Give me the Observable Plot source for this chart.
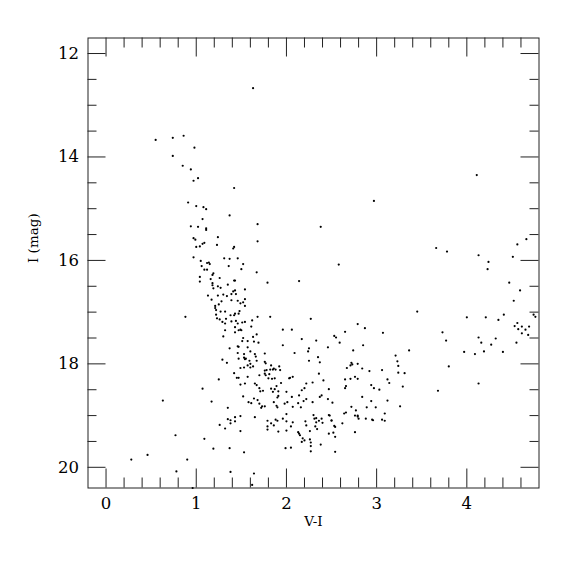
<!DOCTYPE html>
<html>
<head>
<meta charset="utf-8">
<script src="https://cdn.jsdelivr.net/npm/d3@7"></script>
<script src="https://cdn.jsdelivr.net/npm/@observablehq/plot@0.6"></script>
<style>
  html, body { margin: 0; padding: 0; background: #fff; }
  #chart { width: 575px; height: 575px; }
</style>
</head>
<body>
<div id="chart"></div>
<script>
// Axis ticks and labels
const xMajorTicks = [0, 1, 2, 3, 4];
const xMinorTicks = [0.2, 0.4, 0.6, 0.8, 1.2, 1.4, 1.6, 1.8, 2.2, 2.4, 2.6, 2.8, 3.2, 3.4, 3.6, 3.8, 4.2, 4.4, 4.6];
const yMajorTicks = [12, 14, 16, 18, 20];
const yMinorTicks = [12.5, 13, 13.5, 14.5, 15, 15.5, 16.5, 17, 17.5, 18.5, 19, 19.5];
const xTickLabels = ["0", "1", "2", "3", "4"];
const yTickLabels = ["12", "14", "16", "18", "20"];
const xTitle = "V-I";
const yTitle = "I (mag)";

// Stars: [V-I, I]
const brightStars = [
  [1.63,12.67],[0.55,13.67],[0.74,13.63],[0.86,13.59],[0.98,13.82],[0.74,13.98],
  [0.85,14.17],[0.94,14.24],[0.97,14.46],[1.02,14.41],[1.42,14.60],[2.97,14.85],
  [4.11,14.35],[0.91,14.88],[1.00,14.95],[1.08,14.97],[1.11,15.01],[1.07,15.20],
  [1.37,15.13],[2.38,15.35],[1.68,15.30],[2.58,16.08],[2.14,16.40]
];
const blueBranch = [
  [0.94,15.34],[1.02,15.35],[1.11,15.38],[1.11,15.41],[1.24,15.55],[0.97,15.57],
  [0.99,15.60],[1.23,15.70],[1.07,15.68],[1.09,15.66],[1.00,15.74],[1.04,15.73],
  [0.97,15.94],[1.05,16.01],[1.12,16.05],[1.14,16.04],[1.15,16.07],[1.06,16.11],
  [1.09,16.18],[1.12,16.18],[1.31,15.96],[1.37,15.97],[1.36,16.11],
  [1.68,15.63],[1.42,15.74],[1.41,15.77],[1.46,15.96],[1.52,16.07],[1.50,16.17],
  [1.67,16.23],[1.19,16.25],[1.18,16.28],[1.04,16.32],[1.26,16.34],[1.04,16.41],
  [1.16,16.36],[1.42,16.39],[1.43,16.39],[1.79,16.43],[1.18,16.44],[1.18,16.48],
  [1.19,16.54],[1.24,16.50],[1.27,16.53],[1.35,16.47],[1.54,16.56],[1.41,16.60],
  [1.43,16.58],[1.39,16.65],[1.13,16.68],[1.24,16.68],[1.30,16.66],[1.34,16.69],
  [1.44,16.65],[1.17,16.76],[1.28,16.79],[1.39,16.77],[1.46,16.78],[1.49,16.83],
  [1.52,16.81],[1.54,16.75],[1.25,16.85],[1.21,16.88],[1.21,16.92],[1.54,16.88],
  [1.27,16.99],[1.22,16.96],[1.32,16.99],[1.48,16.98],[1.22,17.05],[1.23,17.12],
  [1.26,17.14],[1.38,17.06],[1.42,17.06],[1.43,17.03],[1.47,17.03],[1.33,17.13],
  [1.29,17.19],[1.32,17.22],[1.39,17.18],[1.44,17.17],[1.46,17.22],[1.51,17.20],
  [1.54,17.19],[1.68,17.09],[1.82,17.09],[1.62,17.16],[0.88,17.09],
  [1.32,17.35],[1.30,17.47],[1.37,17.70],[1.29,17.92],[1.34,17.98],[1.25,18.30]
];
const faintCore = [
  [1.43,17.29],[1.43,17.39],[1.47,17.35],[1.49,17.34],[1.50,17.35],[1.61,17.28],
  [1.52,17.50],[1.51,17.56],[1.57,17.56],[1.63,17.48],[1.67,17.43],[1.64,17.57],
  [1.69,17.59],[1.96,17.34],[1.46,17.66],[1.47,17.67],[1.57,17.68],[1.60,17.76],
  [1.46,17.79],[1.53,17.81],[1.65,17.81],[1.66,17.86],[1.76,17.80],[1.47,17.90],
  [1.53,17.88],[1.54,17.91],[1.55,17.90],[1.59,17.94],[1.67,17.94],[1.76,17.96],
  [1.77,17.99],[1.96,17.64],[1.83,18.03],[1.86,18.09],[1.88,18.11],[1.92,18.05],
  [1.93,18.12],[1.49,18.08],[1.53,18.07],[1.57,18.03],[1.60,18.00],[1.63,18.05],
  [1.60,18.07],[1.76,18.13],[1.78,18.12],[1.82,18.11],[1.85,18.11],[1.42,18.18],
  [1.76,18.19],[1.77,18.22],[1.81,18.20],[1.45,18.27],[1.47,18.27],[1.57,18.25],
  [1.70,18.22],[1.80,18.28],[1.84,18.29],[1.87,18.28],[1.49,18.40],[1.54,18.38],
  [1.65,18.38],[1.67,18.41],[1.70,18.47],[1.71,18.53],[1.74,18.52],[1.07,18.48],
  [1.83,18.48],[1.85,18.54],[1.87,18.49],[1.89,18.43],[1.91,18.53],[1.91,18.62],
  [1.90,18.65],[1.94,18.37],[1.52,18.63],[1.64,18.67],[1.68,18.70],[1.70,18.77],
  [1.73,18.82],[1.76,18.82],[1.72,18.85],[1.61,18.76],[1.58,18.74],[1.86,18.74],
  [1.89,18.81],[1.90,18.84],[1.98,18.77],[1.17,18.73],[1.35,18.85],[1.65,19.03],
  [1.49,19.01],[1.43,19.03],[1.38,19.09],[1.35,19.07],[1.43,19.11],[1.88,19.08],
  [1.90,19.10],[1.96,19.06],[1.79,19.10],[1.26,19.18],[1.38,19.15],[1.83,19.15],
  [1.86,19.19]
];
const faintTail = [
  [1.32,19.25],[1.49,19.30],[1.09,19.45],[1.19,19.64],[1.37,19.63],[1.53,19.71],
  [0.90,19.85],[1.38,20.09],[1.64,20.12],[1.79,19.21],[1.79,19.27],[1.91,19.31],
  [2.00,19.11],[2.00,19.29],[2.05,19.21],[2.07,19.13],[1.99,19.63],[2.05,19.62],
  [2.13,19.32],[2.14,19.35],[2.15,19.38],[2.18,19.44],[2.17,19.51],[2.20,19.48],
  [2.21,19.11],[2.22,19.19],[2.26,19.46],[2.27,19.52],[2.27,19.59],[2.26,19.30],
  [2.27,19.69],[2.33,19.05],[2.33,19.13],[2.32,19.21],[2.34,19.26],[2.38,19.56],
  [2.39,19.06],[2.40,19.14],[2.47,19.35],[2.50,19.09],[2.52,19.33],[2.53,19.20],
  [2.54,19.22],[2.54,19.41],[2.54,19.70],[2.62,19.15],[2.76,19.32],[2.79,19.02],
  [2.95,19.08],[3.06,19.08],
  [0.63,18.71],[0.77,19.38],[0.28,19.85],[0.46,19.76],[0.78,20.08],[0.96,20.40],
  [1.62,20.34]
];
const redSide = [
  [2.06,17.34],[2.17,17.52],[2.33,17.55],[2.53,17.46],[2.55,17.49],[2.65,17.38],
  [2.87,17.31],[3.07,17.40],[2.59,17.59],[2.46,17.68],[2.85,17.64],[2.25,17.70],
  [2.24,17.76],[2.09,17.79],[2.74,17.74],[2.35,17.87],[2.37,17.97],[2.25,17.94],
  [2.72,17.98],[2.73,18.01],[2.71,18.03],[2.67,18.08],[2.79,18.00],[2.84,18.09],
  [2.92,18.14],[3.06,18.12],[2.36,18.19],[2.03,18.28],[2.04,18.27],[2.07,18.25],
  [2.22,18.38],[2.29,18.36],[2.41,18.32],[2.65,18.30],[2.71,18.29],[2.76,18.25],
  [2.79,18.29],[2.66,18.43],[2.65,18.47],[2.47,18.49],[2.94,18.41],[2.97,18.47],
  [3.03,18.50],[2.00,18.54],[2.17,18.51],[2.20,18.47],[2.06,18.64],[2.14,18.61],
  [2.37,18.64],[2.39,18.61],[2.46,18.68],[2.84,18.64],[2.22,18.68],[2.19,18.72],
  [2.29,18.74],[2.01,18.74],[2.07,18.83],[2.13,18.76],[2.16,18.84],[2.51,18.75],
  [2.64,18.96],[2.66,18.94],[2.77,18.90],[2.79,19.00],[2.76,19.00],[2.72,18.83],
  [2.89,18.84],[2.99,18.84],[2.94,18.72],[3.09,18.96],[2.00,18.97],[2.30,18.99],
  [2.31,19.06],[2.36,19.10],[2.47,18.99],[2.48,19.00],[2.50,19.10],[2.80,19.06],
  [2.88,19.06],[2.96,19.09],[3.09,19.10],[2.27,17.13],[2.79,17.23],
  [3.21,17.84],[3.23,17.95],[3.24,18.04],[3.36,17.74],[3.24,18.17],[3.31,18.18],
  [3.12,18.30],[3.14,18.37],[3.29,18.44],[3.12,18.71],[3.26,18.82]
];
const veryRed = [
  [3.66,15.76],[3.78,15.83],[4.13,15.90],[4.24,16.03],[4.23,16.17],[4.51,15.93],
  [4.56,15.69],[4.66,15.59],[4.47,16.43],[4.59,16.58],[4.52,16.78],[3.45,16.99],
  [4.00,17.10],[4.21,17.10],[4.35,17.15],[4.41,17.05],[4.74,17.05],[4.76,17.09],
  [4.56,17.21],[4.53,17.27],[4.57,17.33],[4.61,17.28],[4.65,17.34],[4.69,17.28],
  [4.61,17.41],[4.68,17.44],[4.55,17.59],[3.73,17.39],[3.77,17.55],[4.13,17.49],
  [4.16,17.59],[4.32,17.51],[4.27,17.63],[3.97,17.77],[4.09,17.81],[4.19,17.76],
  [4.40,17.77],[3.80,18.05],[4.13,18.38],[3.68,18.52]
];

const stars = [...brightStars, ...blueBranch, ...faintCore, ...faintTail, ...redSide, ...veryRed]
  .map(([vi, mag]) => ({vi, mag}));

const W = 575, H = 575;
const mL = 87.5, mR = 36.5, mT = 37.5, mB = 87.5;
const frameH = H - mT - mB;
const frameW = W - mL - mR;
const font = "DejaVu Serif, Liberation Serif, serif";
const ink = "#222";

const chart = Plot.plot({
  width: W,
  height: H,
  marginLeft: mL,
  marginRight: mR,
  marginTop: mT,
  marginBottom: mB,
  style: {fontFamily: font, background: "white", color: ink},
  x: {domain: [-0.2, 4.8], axis: null},
  y: {domain: [11.7, 20.4], reverse: true, axis: null},
  marks: [
    // inward ticks, bottom & top
    Plot.ruleX(xMajorTicks, {x: d => d, insetTop: frameH - 19, stroke: ink}),
    Plot.ruleX(xMajorTicks, {x: d => d, insetBottom: frameH - 19, stroke: ink}),
    Plot.ruleX(xMinorTicks, {x: d => d, insetTop: frameH - 10, stroke: ink}),
    Plot.ruleX(xMinorTicks, {x: d => d, insetBottom: frameH - 10, stroke: ink}),
    // inward ticks, left & right
    Plot.ruleY(yMajorTicks, {y: d => d, insetRight: frameW - 18, stroke: ink}),
    Plot.ruleY(yMajorTicks, {y: d => d, insetLeft: frameW - 18, stroke: ink}),
    Plot.ruleY(yMinorTicks, {y: d => d, insetRight: frameW - 9, stroke: ink}),
    Plot.ruleY(yMinorTicks, {y: d => d, insetLeft: frameW - 9, stroke: ink}),
    Plot.frame({stroke: ink, strokeWidth: 1}),
    // tick labels
    Plot.text(xMajorTicks, {x: d => d, text: (d, i) => xTickLabels[i], frameAnchor: "bottom", dy: 21, fontSize: 16.5, fill: "#000"}),
    Plot.text(yMajorTicks, {y: d => d, text: (d, i) => yTickLabels[i], frameAnchor: "left", dx: -9, textAnchor: "end", fontSize: 16.5, fill: "#000"}),
    // axis titles
    Plot.text([xTitle], {text: d => d, frameAnchor: "bottom", dy: 38, fontSize: 13.5, fill: "#000"}),
    Plot.text([yTitle], {text: d => d, frameAnchor: "left", dx: -54, rotate: -90, fontSize: 13.5, fill: "#000"}),
    // stars
    Plot.dot(stars, {x: "vi", y: "mag", r: 1.1, fill: "#000", stroke: null})
  ]
});
document.getElementById("chart").appendChild(chart);
</script>
</body>
</html>
